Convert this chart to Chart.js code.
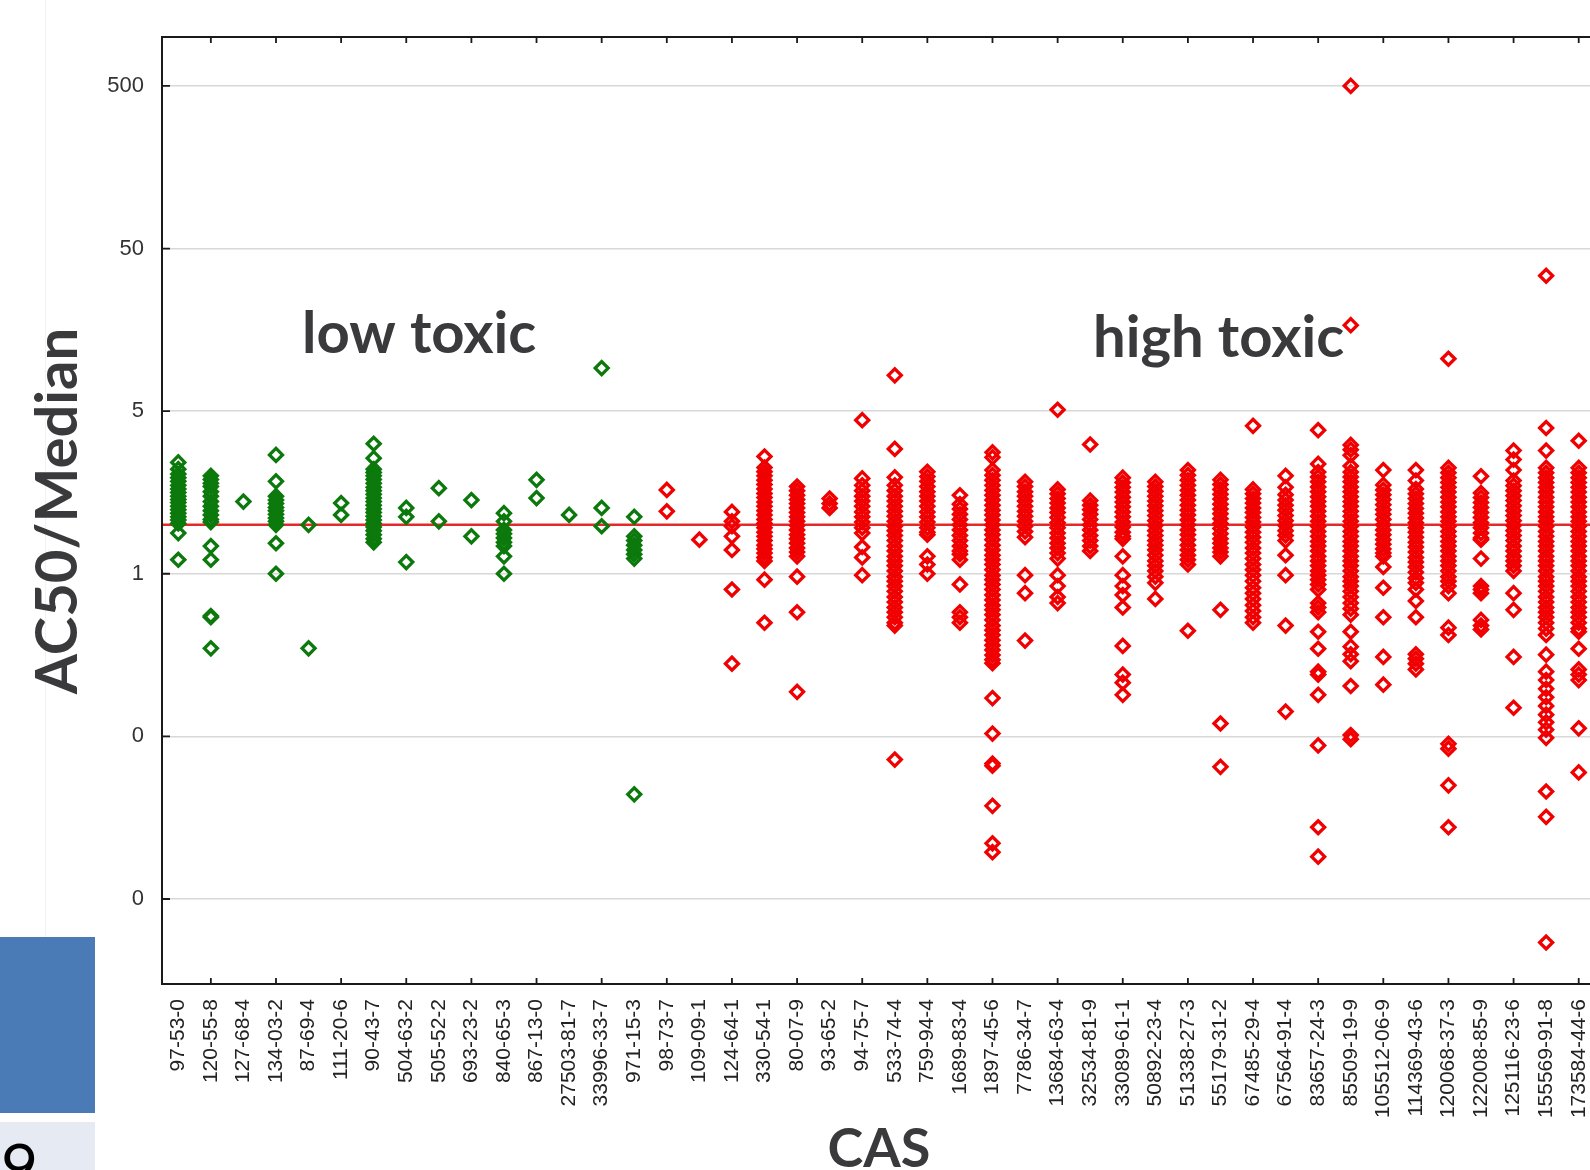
<!DOCTYPE html>
<html>
<head>
<meta charset="utf-8">
<title>AC50/Median by CAS</title>
<script src="https://cdn.jsdelivr.net/npm/chart.js@4.4.1/dist/chart.umd.min.js"></script>
<style>
  html, body { margin: 0; padding: 0; background: #fff; }
  body { width: 1590px; height: 1170px; overflow: hidden; position: relative; }
  #chart { position: absolute; left: 0; top: 0; }
  .faint { position: absolute; left: 45px; top: 0; width: 1px; height: 937px; background: #f2f2f2; }
  .blue { position: absolute; left: 0; top: 937px; width: 95px; height: 176px; background: #4a7bb7; }
  .pale { position: absolute; left: 0; top: 1122px; width: 95px; height: 48px; background: #e6ebf3; overflow: hidden; }
  .pale span { position: absolute; left: 1px; top: 12px; font: 64px/64px Lato, "Liberation Sans", sans-serif; color: #000; }
</style>
</head>
<body>
<div class="faint"></div>
<div class="blue"></div>
<div class="pale"><span>9</span></div>
<canvas id="chart" width="1610" height="1170"></canvas>
<script>
// CAS numbers along the x axis (first 15 are the low toxic group)
const casLabels = ['97-53-0', '120-55-8', '127-68-4', '134-03-2', '87-69-4', '111-20-6', '90-43-7',
    '504-63-2', '505-52-2', '693-23-2', '840-65-3', '867-13-0', '27503-81-7', '33996-33-7', '971-15-3',
    '98-73-7', '109-09-1', '124-64-1', '330-54-1', '80-07-9', '93-65-2', '94-75-7', '533-74-4',
    '759-94-4', '1689-83-4', '1897-45-6', '7786-34-7', '13684-63-4', '32534-81-9', '33089-61-1',
    '50892-23-4', '51338-27-3', '55179-31-2', '67485-29-4', '67564-91-4', '83657-24-3', '85509-19-9',
    '105512-06-9', '114369-43-6', '120068-37-3', '122008-85-9', '125116-23-6', '155569-91-8', '173584-44-6'];

// AC50/Median values, one row per CAS (low toxic)
const lowValues = [
    [2.42, 2.2, 2.05, 1.95, 1.85, 1.75, 1.66, 1.58, 1.5, 1.43, 1.37, 1.3, 1.24, 1.18, 1.12, 1.07, 1.02, 0.89, 0.61],
    [2.0, 1.9, 1.8, 1.72, 1.6, 1.5, 1.39, 1.3, 1.22, 1.15, 1.08, 1.04, 0.74, 0.61, 0.275, 0.27, 0.174],
    [1.39],
    [2.69, 1.85, 1.5, 1.42, 1.35, 1.28, 1.22, 1.16, 1.1, 1.05, 1.0, 0.77, 0.5],
    [1.0, 0.174],
    [1.36, 1.15],
    [3.15, 2.57, 2.2, 2.1, 2.0, 1.9, 1.8, 1.7, 1.62, 1.54, 1.46, 1.39, 1.32, 1.25, 1.19, 1.13, 1.07, 1.02, 0.97, 0.92, 0.87, 0.82, 0.78],
    [1.27, 1.12, 0.59],
    [1.68, 1.05],
    [1.42, 0.85],
    [1.18, 1.05, 0.93, 0.88, 0.83, 0.78, 0.74, 0.64, 0.5],
    [1.89, 1.46],
    [1.15],
    [9.2, 1.27, 0.98],
    [1.12, 0.85, 0.8, 0.75, 0.7, 0.66, 0.62, 0.022]
];

// AC50/Median values, one row per CAS (high toxic)
const highValues = [
    [1.64, 1.21],
    [0.81],
    [1.2, 1.05, 0.98, 0.85, 0.7, 0.4, 0.14],
    [2.63, 2.25, 2.12, 2.0, 1.88, 1.77, 1.66, 1.56, 1.47, 1.38, 1.3, 1.22, 1.15, 1.08, 1.02, 0.96, 0.9, 0.85, 0.8, 0.75, 0.71, 0.67, 0.63, 0.6, 0.46, 0.25],
    [1.72, 1.62, 1.52, 1.43, 1.35, 1.27, 1.19, 1.12, 1.05, 0.99, 0.93, 0.87, 0.82, 0.77, 0.72, 0.68, 0.64, 0.48, 0.29, 0.094],
    [1.45, 1.35, 1.27],
    [4.4, 1.93, 1.75, 1.62, 1.5, 1.4, 1.3, 1.2, 1.12, 1.04, 0.96, 0.89, 0.73, 0.63, 0.49],
    [8.3, 2.93, 1.96, 1.75, 1.62, 1.5, 1.4, 1.3, 1.21, 1.13, 1.05, 0.98, 0.92, 0.86, 0.8, 0.74, 0.69, 0.64, 0.6, 0.56, 0.52, 0.48, 0.45, 0.42, 0.39, 0.36, 0.335, 0.31, 0.29, 0.27, 0.25, 0.24, 0.036],
    [2.12, 1.98, 1.85, 1.72, 1.6, 1.5, 1.4, 1.3, 1.2, 1.12, 1.04, 0.96, 0.9, 0.87, 0.64, 0.57, 0.5],
    [1.52, 1.34, 1.25, 1.16, 1.08, 1.0, 0.93, 0.86, 0.8, 0.74, 0.69, 0.66, 0.61, 0.43, 0.29, 0.27, 0.25],
    [2.79, 2.6, 2.17, 2.02, 1.88, 1.75, 1.63, 1.52, 1.42, 1.32, 1.23, 1.15, 1.07, 1.0, 0.93, 0.87, 0.81, 0.75, 0.7, 0.65, 0.61, 0.57, 0.53, 0.49, 0.46, 0.43, 0.4, 0.37, 0.345, 0.32, 0.3, 0.28, 0.26, 0.24, 0.225, 0.21, 0.195, 0.182, 0.17, 0.158, 0.148, 0.141, 0.086, 0.052, 0.034, 0.033, 0.0187, 0.011, 0.0097],
    [1.84, 1.72, 1.6, 1.5, 1.4, 1.3, 1.21, 1.13, 1.05, 0.98, 0.91, 0.84, 0.49, 0.38, 0.194],
    [5.1, 1.65, 1.55, 1.45, 1.36, 1.27, 1.19, 1.11, 1.03, 0.96, 0.89, 0.83, 0.77, 0.72, 0.67, 0.62, 0.49, 0.42, 0.36, 0.33],
    [3.12, 1.41, 1.32, 1.24, 1.16, 1.08, 1.0, 0.93, 0.86, 0.8, 0.74, 0.69],
    [1.95, 1.82, 1.7, 1.59, 1.48, 1.38, 1.29, 1.2, 1.12, 1.04, 0.97, 0.9, 0.85, 0.82, 0.64, 0.49, 0.42, 0.37, 0.31, 0.18, 0.12, 0.107, 0.09],
    [1.84, 1.72, 1.61, 1.5, 1.4, 1.31, 1.22, 1.14, 1.06, 0.99, 0.92, 0.86, 0.8, 0.75, 0.7, 0.65, 0.6, 0.56, 0.52, 0.48, 0.44, 0.35],
    [2.17, 2.02, 1.88, 1.75, 1.63, 1.52, 1.42, 1.32, 1.23, 1.15, 1.07, 1.0, 0.93, 0.87, 0.81, 0.75, 0.7, 0.65, 0.61, 0.57, 0.223],
    [1.89, 1.77, 1.65, 1.54, 1.44, 1.34, 1.25, 1.17, 1.09, 1.02, 0.95, 0.88, 0.82, 0.77, 0.72, 0.68, 0.64, 0.3, 0.06, 0.0325],
    [4.06, 1.65, 1.55, 1.45, 1.36, 1.27, 1.19, 1.11, 1.04, 0.97, 0.9, 0.84, 0.78, 0.72, 0.67, 0.62, 0.57, 0.53, 0.49, 0.45, 0.41, 0.38, 0.35, 0.32, 0.295, 0.27, 0.25],
    [2.0, 1.7, 1.53, 1.42, 1.32, 1.23, 1.14, 1.06, 0.99, 0.92, 0.86, 0.8, 0.65, 0.49, 0.24, 0.071],
    [3.82, 2.37, 2.11, 1.97, 1.84, 1.71, 1.6, 1.49, 1.39, 1.3, 1.21, 1.13, 1.05, 0.98, 0.91, 0.85, 0.79, 0.74, 0.69, 0.64, 0.6, 0.56, 0.52, 0.49, 0.46, 0.43, 0.4, 0.33, 0.31, 0.29, 0.22, 0.173, 0.125, 0.12, 0.09, 0.044, 0.0138, 0.0091],
    [500, 16.9, 3.1, 2.9, 2.68, 2.3, 2.11, 1.97, 1.84, 1.71, 1.6, 1.49, 1.39, 1.3, 1.21, 1.13, 1.05, 0.98, 0.91, 0.85, 0.79, 0.74, 0.69, 0.64, 0.6, 0.56, 0.52, 0.48, 0.45, 0.42, 0.39, 0.36, 0.33, 0.305, 0.28, 0.22, 0.178, 0.16, 0.145, 0.102, 0.051, 0.048],
    [2.17, 1.76, 1.64, 1.53, 1.43, 1.33, 1.24, 1.16, 1.08, 1.0, 0.93, 0.87, 0.81, 0.76, 0.71, 0.67, 0.64, 0.55, 0.41, 0.27, 0.154, 0.104],
    [2.17, 1.87, 1.66, 1.55, 1.45, 1.35, 1.26, 1.18, 1.1, 1.03, 0.96, 0.9, 0.84, 0.78, 0.73, 0.68, 0.63, 0.59, 0.55, 0.51, 0.47, 0.44, 0.4, 0.34, 0.27, 0.16, 0.15, 0.14, 0.129],
    [10.5, 2.24, 2.09, 1.95, 1.82, 1.7, 1.59, 1.48, 1.38, 1.29, 1.2, 1.12, 1.05, 0.98, 0.91, 0.85, 0.79, 0.74, 0.69, 0.64, 0.6, 0.56, 0.52, 0.48, 0.45, 0.42, 0.38, 0.233, 0.21, 0.045, 0.042, 0.025, 0.0138],
    [1.99, 1.57, 1.47, 1.37, 1.28, 1.19, 1.11, 1.03, 0.96, 0.89, 0.83, 0.81, 0.62, 0.42, 0.4, 0.38, 0.26, 0.24, 0.227],
    [2.86, 2.52, 2.17, 1.87, 1.74, 1.62, 1.51, 1.41, 1.31, 1.22, 1.14, 1.06, 0.99, 0.92, 0.86, 0.8, 0.74, 0.69, 0.64, 0.6, 0.56, 0.52, 0.38, 0.3, 0.154, 0.075],
    [34, 3.94, 2.86, 2.24, 2.09, 1.95, 1.82, 1.7, 1.59, 1.48, 1.38, 1.29, 1.2, 1.12, 1.05, 0.98, 0.91, 0.85, 0.79, 0.74, 0.69, 0.64, 0.6, 0.56, 0.52, 0.48, 0.45, 0.42, 0.39, 0.36, 0.335, 0.31, 0.29, 0.27, 0.25, 0.23, 0.21, 0.159, 0.125, 0.111, 0.098, 0.087, 0.077, 0.068, 0.061, 0.055, 0.049, 0.0229, 0.016, 0.0027],
    [3.29, 2.24, 2.09, 1.95, 1.82, 1.7, 1.59, 1.48, 1.38, 1.29, 1.2, 1.12, 1.05, 0.98, 0.91, 0.85, 0.79, 0.74, 0.69, 0.64, 0.6, 0.56, 0.52, 0.48, 0.45, 0.42, 0.39, 0.36, 0.335, 0.31, 0.29, 0.27, 0.25, 0.23, 0.22, 0.173, 0.129, 0.12, 0.111, 0.056, 0.03]
];

// y axis tick values (labels are rounded to whole numbers, as in the original)
const yTickValues = [500, 50, 5, 0.5, 0.05, 0.005];
const medianRatio = 1;

// turn the rows into scatter points
function toPoints(rows, offset) {
    const pts = [];
    rows.forEach((row, i) => {
        row.forEach(v => pts.push({ x: casLabels[offset + i], y: v }));
    });
    return pts;
}

const tickFont = { family: '"Liberation Sans", Arial, sans-serif', size: 21 };
const titleFont = 'Lato, "Open Sans", sans-serif';

// median line, frame, inward ticks and text labels
const framePlugin = {
    id: 'frame',
    beforeDatasetsDraw(chart) {
        const { ctx, chartArea: a, scales: { y } } = chart;
        const py = y.getPixelForValue(medianRatio);
        ctx.save();
        ctx.strokeStyle = '#e22a2a';
        ctx.lineWidth = 2.5;
        ctx.beginPath();
        ctx.moveTo(a.left, py);
        ctx.lineTo(a.right, py);
        ctx.stroke();
        ctx.restore();
    },
    afterDraw(chart) {
        const { ctx, chartArea: a, scales: { x, y } } = chart;
        ctx.save();
        ctx.strokeStyle = '#1a1a1a';
        ctx.lineWidth = 2;
        ctx.beginPath();
        ctx.moveTo(a.right + 10, a.top);
        ctx.lineTo(a.left, a.top);
        ctx.lineTo(a.left, a.bottom);
        ctx.lineTo(a.right + 10, a.bottom);
        ctx.stroke();

        // inward ticks
        ctx.lineWidth = 1.8;
        ctx.beginPath();
        yTickValues.forEach(v => {
            const py = y.getPixelForValue(v);
            ctx.moveTo(a.left, py);
            ctx.lineTo(a.left + 8, py);
        });
        casLabels.forEach((lab, i) => {
            if (i % 2 === 0) return;
            const px = x.getPixelForValue(i);
            ctx.moveTo(px, a.top);
            ctx.lineTo(px, a.top + 6);
            ctx.moveTo(px, a.bottom);
            ctx.lineTo(px, a.bottom - 6);
        });
        ctx.stroke();

        // axis titles and group labels
        ctx.fillStyle = '#3a3a3c';
        ctx.font = 'bold 58px ' + titleFont;
        ctx.textBaseline = 'alphabetic';
        ctx.textAlign = 'left';
        ctx.fillText('low toxic', 302, 353);
        ctx.fillText('high toxic', 1093, 357);

        ctx.textAlign = 'center';
        ctx.font = 'bold 54px ' + titleFont;
        ctx.fillText('CAS', 879, 1167);

        ctx.translate(77, 511);
        ctx.rotate(-Math.PI / 2);
        ctx.font = 'bold 58px ' + titleFont;
        ctx.fillText('AC50/Median', 0, 0);
        ctx.restore();
    }
};

const pointStyle = {
    showLine: false,
    pointStyle: 'rectRot',
    pointRadius: 6.5,
    pointBorderWidth: 3.3,
    pointBackgroundColor: 'rgba(0,0,0,0)'
};

function drawChart() {
    const ctx = document.getElementById('chart').getContext('2d');
    new Chart(ctx, {
        type: 'scatter',
        data: {
            datasets: [
                Object.assign({ label: 'low toxic', data: toPoints(lowValues, 0), pointBorderColor: '#0b790b' }, pointStyle),
                Object.assign({ label: 'high toxic', data: toPoints(highValues, lowValues.length), pointBorderColor: '#f00000' }, pointStyle)
            ]
        },
        options: {
            responsive: false,
            animation: false,
            events: [],
            devicePixelRatio: 1,
            layout: { padding: { top: 37, right: 15, left: 0, bottom: 0 } },
            plugins: { legend: { display: false }, tooltip: { enabled: false } },
            scales: {
                x: {
                    type: 'category',
                    labels: casLabels,
                    offset: true,
                    grid: { display: false, drawTicks: false },
                    border: { display: false },
                    ticks: {
                        autoSkip: false,
                        minRotation: 90,
                        maxRotation: 90,
                        padding: 15,
                        color: '#222',
                        font: tickFont
                    },
                    afterFit(scale) {
                        scale.height = 186;
                        scale.paddingLeft = 0;
                        scale.paddingRight = 0;
                    }
                },
                y: {
                    type: 'logarithmic',
                    min: 0.0015,
                    max: 1000,
                    afterBuildTicks(scale) {
                        scale.ticks = yTickValues.map(v => ({ value: v }));
                    },
                    grid: { color: '#d8d8d8', lineWidth: 1.5, drawTicks: false },
                    border: { display: false },
                    ticks: {
                        padding: 18,
                        color: '#333',
                        font: { family: '"Liberation Sans", Arial, sans-serif', size: 22 },
                        callback: v => String(Math.round(v))
                    },
                    afterFit(scale) { scale.width = 162; }
                }
            }
        },
        plugins: [framePlugin]
    });
}

if (document.fonts && document.fonts.load) {
    Promise.all([document.fonts.load('bold 58px Lato'), document.fonts.load('21px "Liberation Sans"')])
        .then(drawChart, drawChart);
} else {
    drawChart();
}
</script>
</body>
</html>
